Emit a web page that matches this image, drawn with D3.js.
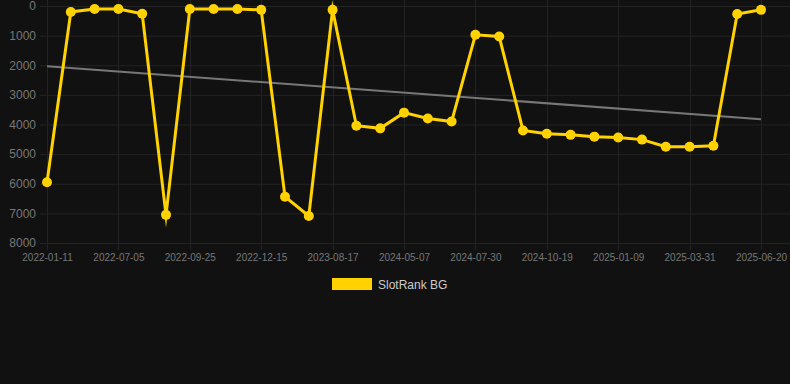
<!DOCTYPE html>
<html>
<head>
<meta charset="utf-8">
<script src="https://cdn.jsdelivr.net/npm/d3@7"></script>
<style>
  html, body { margin: 0; padding: 0; background: #111111; }
  svg { display: block; font-family: "Liberation Sans", Arial, sans-serif; }
</style>
</head>
<body>
<div id="chart"></div>
<script>
var width = 790,
  height = 384;

// categories (dates), every third one is labelled on the axis
var dates = [
  "2022-01-11", "2022-03-10", "2022-05-08", "2022-07-05", "2022-08-01", "2022-08-28",
  "2022-09-25", "2022-10-22", "2022-11-18", "2022-12-15", "2023-03-10", "2023-06-01",
  "2023-08-17", "2023-11-10", "2024-02-05", "2024-05-07", "2024-06-04", "2024-07-02",
  "2024-07-30", "2024-08-26", "2024-09-22", "2024-10-19", "2024-11-15", "2024-12-12",
  "2025-01-09", "2025-02-05", "2025-03-04", "2025-03-31", "2025-04-27", "2025-05-24",
  "2025-06-20"
];

var rankBG = [
  5950, 200, 100, 100, 260, 7050,
  100, 100, 100, 130, 6440, 7090,
  130, 4040, 4130, 3600, 3800, 3900,
  970, 1030, 4200, 4310, 4350, 4410,
  4440, 4510, 4750, 4750, 4720, 270,
  130
];

var trendEnds = [2030, 3820];

var yTicks = [0, 1000, 2000, 3000, 4000, 5000, 6000, 7000, 8000];

var svg = d3.select( "#chart" )
  .append( "svg" )
  .attr( "width", width )
  .attr( "height", height );

var x = d3.scalePoint()
  .domain( dates )
  .range( [47, 761] );

var y = d3.scaleLinear()
  .domain( [0, 8000] )
  .range( [6, 243] );

// grid
var grid = svg.append( "g" );

grid.selectAll( "line.h" )
  .data( yTicks )
  .enter()
  .append( "line" )
  .attr( "class", "h" )
  .attr( "x1", 40 )
  .attr( "x2", width )
  .attr( "y1", function(d){ return y(d) + 0.5; } )
  .attr( "y2", function(d){ return y(d) + 0.5; } )
  .attr( "stroke", "#232323" )
  .attr( "stroke-width", 1 );

var labelled = dates.filter( function(d, i){ return i % 3 == 0; } );

grid.selectAll( "line.v" )
  .data( labelled )
  .enter()
  .append( "line" )
  .attr( "class", "v" )
  .attr( "x1", function(d){ return Math.round(x(d)) + 0.5; } )
  .attr( "x2", function(d){ return Math.round(x(d)) + 0.5; } )
  .attr( "y1", 0 )
  .attr( "y2", 250 )
  .attr( "stroke", "#232323" )
  .attr( "stroke-width", 1 );

// axes
var yAxis = svg.append( "g" )
  .attr( "transform", "translate(40,0)" )
  .call( d3.axisLeft( y ).tickValues( yTicks ).tickSize( 0 ).tickPadding( 4 ).tickFormat( d3.format( "d" ) ) );

yAxis.select( ".domain" ).remove();
yAxis.selectAll( "text" )
  .attr( "fill", "#777777" )
  .attr( "font-size", "12px" );

var xAxis = svg.append( "g" )
  .attr( "transform", "translate(0,250)" )
  .call( d3.axisBottom( x ).tickValues( labelled ).tickSize( 0 ).tickPadding( 4 ) );

xAxis.select( ".domain" ).remove();
xAxis.selectAll( "text" )
  .attr( "fill", "#777777" )
  .attr( "font-size", "10px" );

// trend line
svg.append( "line" )
  .attr( "x1", x( dates[0] ) )
  .attr( "x2", x( dates[dates.length - 1] ) )
  .attr( "y1", y( trendEnds[0] ) )
  .attr( "y2", y( trendEnds[1] ) )
  .attr( "stroke", "#777777" )
  .attr( "stroke-width", 2 );

// series
var line = d3.line()
  .x( function(d, i){ return x( dates[i] ); } )
  .y( function(d){ return y( d ); } );

svg.append( "path" )
  .datum( rankBG )
  .attr( "fill", "none" )
  .attr( "stroke", "#FFD200" )
  .attr( "stroke-width", 3 )
  .attr( "stroke-linejoin", "miter" )
  .attr( "stroke-miterlimit", 10 )
  .attr( "d", line );

svg.append( "g" )
  .selectAll( "circle" )
  .data( rankBG )
  .enter()
  .append( "circle" )
  .attr( "fill", "#FFD200" )
  .attr( "cx", function(d, i){ return x( dates[i] ); } )
  .attr( "cy", function(d){ return y( d ); } )
  .attr( "r", 5 );

// legend
var legend = svg.append( "g" );

legend.append( "rect" )
  .attr( "x", 332 )
  .attr( "y", 278 )
  .attr( "width", 40 )
  .attr( "height", 12 )
  .attr( "fill", "#FFD200" );

legend.append( "text" )
  .attr( "x", 378 )
  .attr( "y", 288.5 )
  .attr( "fill", "#cccccc" )
  .attr( "font-size", "12px" )
  .text( "SlotRank BG" );
</script>
</body>
</html>
